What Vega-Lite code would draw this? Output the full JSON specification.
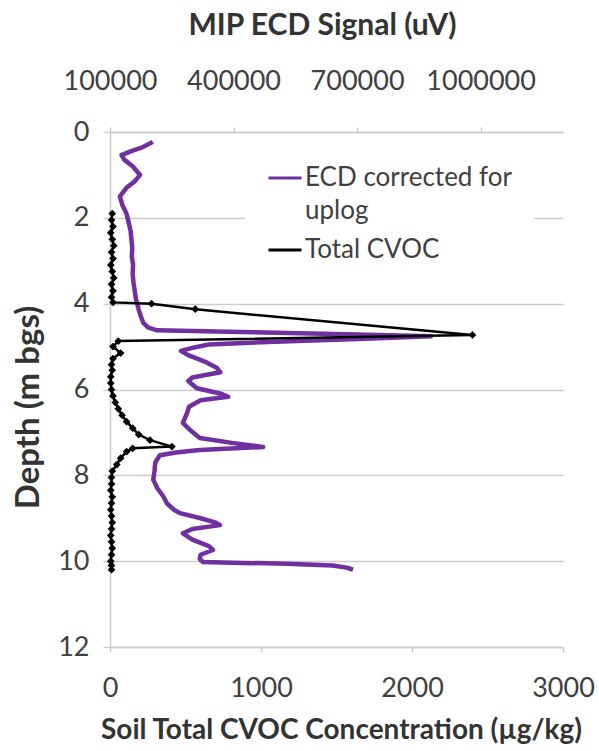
{
  "$schema": "https://vega.github.io/schema/vega-lite/v6.json",
  "width": 453,
  "height": 515,
  "autosize": {"type": "none"},
  "padding": {"left": 110, "top": 132, "right": 36, "bottom": 104},
  "background": "white",
  "config": {
    "view": {"stroke": null},
    "font": "Lato",
    "style": {"guide-label": {"lineHeight": 33}},
    "axis": {
      "labelFont": "Lato",
      "labelFontSize": 27,
      "labelColor": "#404040",
      "titleFont": "Lato",
      "titleFontSize": 30,
      "titleFontWeight": "bold",
      "titleColor": "#333333",
      "domainColor": "#cccccc",
      "domainWidth": 1.5,
      "tickColor": "#cccccc",
      "tickWidth": 1.5,
      "gridColor": "#cccccc",
      "gridWidth": 1.5,
      "labelFlush": false,
      "labelOverlap": false
    },
    "legend": {"labelFont": "Lato", "labelFontSize": 26, "labelColor": "#404040"}
  },
  "datasets": {
    "ecd": [
      {"depth": 0.23, "signal": 204000, "series": "ECD corrected for uplog"},
      {"depth": 0.35, "signal": 180000, "series": "ECD corrected for uplog"},
      {"depth": 0.45, "signal": 150000, "series": "ECD corrected for uplog"},
      {"depth": 0.54, "signal": 128000, "series": "ECD corrected for uplog"},
      {"depth": 0.65, "signal": 135000, "series": "ECD corrected for uplog"},
      {"depth": 0.8, "signal": 155000, "series": "ECD corrected for uplog"},
      {"depth": 1.0, "signal": 173000, "series": "ECD corrected for uplog"},
      {"depth": 1.15, "signal": 160000, "series": "ECD corrected for uplog"},
      {"depth": 1.3, "signal": 140000, "series": "ECD corrected for uplog"},
      {"depth": 1.5, "signal": 124000, "series": "ECD corrected for uplog"},
      {"depth": 1.7, "signal": 130000, "series": "ECD corrected for uplog"},
      {"depth": 1.9, "signal": 140000, "series": "ECD corrected for uplog"},
      {"depth": 2.1, "signal": 145000, "series": "ECD corrected for uplog"},
      {"depth": 2.3, "signal": 150000, "series": "ECD corrected for uplog"},
      {"depth": 2.5, "signal": 152000, "series": "ECD corrected for uplog"},
      {"depth": 2.7, "signal": 154000, "series": "ECD corrected for uplog"},
      {"depth": 2.9, "signal": 153000, "series": "ECD corrected for uplog"},
      {"depth": 3.1, "signal": 156000, "series": "ECD corrected for uplog"},
      {"depth": 3.3, "signal": 155000, "series": "ECD corrected for uplog"},
      {"depth": 3.5, "signal": 157000, "series": "ECD corrected for uplog"},
      {"depth": 3.7, "signal": 160000, "series": "ECD corrected for uplog"},
      {"depth": 3.9, "signal": 163000, "series": "ECD corrected for uplog"},
      {"depth": 4.0, "signal": 166000, "series": "ECD corrected for uplog"},
      {"depth": 4.15, "signal": 170000, "series": "ECD corrected for uplog"},
      {"depth": 4.3, "signal": 175000, "series": "ECD corrected for uplog"},
      {"depth": 4.45, "signal": 181000, "series": "ECD corrected for uplog"},
      {"depth": 4.55, "signal": 192000, "series": "ECD corrected for uplog"},
      {"depth": 4.62, "signal": 214000, "series": "ECD corrected for uplog"},
      {"depth": 4.66, "signal": 420000, "series": "ECD corrected for uplog"},
      {"depth": 4.72, "signal": 700000, "series": "ECD corrected for uplog"},
      {"depth": 4.76, "signal": 880000, "series": "ECD corrected for uplog"},
      {"depth": 4.82, "signal": 720000, "series": "ECD corrected for uplog"},
      {"depth": 4.88, "signal": 520000, "series": "ECD corrected for uplog"},
      {"depth": 4.95, "signal": 340000, "series": "ECD corrected for uplog"},
      {"depth": 5.03, "signal": 300000, "series": "ECD corrected for uplog"},
      {"depth": 5.1, "signal": 272000, "series": "ECD corrected for uplog"},
      {"depth": 5.2, "signal": 290000, "series": "ECD corrected for uplog"},
      {"depth": 5.35, "signal": 330000, "series": "ECD corrected for uplog"},
      {"depth": 5.5, "signal": 360000, "series": "ECD corrected for uplog"},
      {"depth": 5.6, "signal": 368000, "series": "ECD corrected for uplog"},
      {"depth": 5.72, "signal": 300000, "series": "ECD corrected for uplog"},
      {"depth": 5.8, "signal": 290000, "series": "ECD corrected for uplog"},
      {"depth": 5.97, "signal": 311000, "series": "ECD corrected for uplog"},
      {"depth": 6.1, "signal": 370000, "series": "ECD corrected for uplog"},
      {"depth": 6.17, "signal": 387000, "series": "ECD corrected for uplog"},
      {"depth": 6.25, "signal": 320000, "series": "ECD corrected for uplog"},
      {"depth": 6.4, "signal": 292000, "series": "ECD corrected for uplog"},
      {"depth": 6.55, "signal": 287000, "series": "ECD corrected for uplog"},
      {"depth": 6.78, "signal": 277000, "series": "ECD corrected for uplog"},
      {"depth": 6.95, "signal": 295000, "series": "ECD corrected for uplog"},
      {"depth": 7.13, "signal": 318000, "series": "ECD corrected for uplog"},
      {"depth": 7.25, "signal": 400000, "series": "ECD corrected for uplog"},
      {"depth": 7.34, "signal": 472000, "series": "ECD corrected for uplog"},
      {"depth": 7.41, "signal": 318000, "series": "ECD corrected for uplog"},
      {"depth": 7.47, "signal": 260000, "series": "ECD corrected for uplog"},
      {"depth": 7.53, "signal": 221000, "series": "ECD corrected for uplog"},
      {"depth": 7.7, "signal": 210000, "series": "ECD corrected for uplog"},
      {"depth": 7.9, "signal": 208000, "series": "ECD corrected for uplog"},
      {"depth": 8.1, "signal": 205000, "series": "ECD corrected for uplog"},
      {"depth": 8.3, "signal": 215000, "series": "ECD corrected for uplog"},
      {"depth": 8.5, "signal": 230000, "series": "ECD corrected for uplog"},
      {"depth": 8.65, "signal": 238000, "series": "ECD corrected for uplog"},
      {"depth": 8.8, "signal": 255000, "series": "ECD corrected for uplog"},
      {"depth": 8.88, "signal": 270000, "series": "ECD corrected for uplog"},
      {"depth": 9.0, "signal": 320000, "series": "ECD corrected for uplog"},
      {"depth": 9.1, "signal": 357000, "series": "ECD corrected for uplog"},
      {"depth": 9.16, "signal": 367000, "series": "ECD corrected for uplog"},
      {"depth": 9.25, "signal": 300000, "series": "ECD corrected for uplog"},
      {"depth": 9.35, "signal": 277000, "series": "ECD corrected for uplog"},
      {"depth": 9.5, "signal": 300000, "series": "ECD corrected for uplog"},
      {"depth": 9.65, "signal": 340000, "series": "ECD corrected for uplog"},
      {"depth": 9.74, "signal": 350000, "series": "ECD corrected for uplog"},
      {"depth": 9.85, "signal": 320000, "series": "ECD corrected for uplog"},
      {"depth": 9.95, "signal": 318000, "series": "ECD corrected for uplog"},
      {"depth": 10.02, "signal": 326000, "series": "ECD corrected for uplog"},
      {"depth": 10.04, "signal": 420000, "series": "ECD corrected for uplog"},
      {"depth": 10.06, "signal": 530000, "series": "ECD corrected for uplog"},
      {"depth": 10.1, "signal": 640000, "series": "ECD corrected for uplog"},
      {"depth": 10.15, "signal": 675000, "series": "ECD corrected for uplog"},
      {"depth": 10.2, "signal": 690000, "series": "ECD corrected for uplog"}
    ],
    "cvoc": [
      {"depth": 1.9, "conc": 15, "series": "Total CVOC"},
      {"depth": 2.05, "conc": 10, "series": "Total CVOC"},
      {"depth": 2.2, "conc": 20, "series": "Total CVOC"},
      {"depth": 2.35, "conc": 5, "series": "Total CVOC"},
      {"depth": 2.5, "conc": 15, "series": "Total CVOC"},
      {"depth": 2.65, "conc": 25, "series": "Total CVOC"},
      {"depth": 2.8, "conc": 10, "series": "Total CVOC"},
      {"depth": 2.95, "conc": 20, "series": "Total CVOC"},
      {"depth": 3.1, "conc": 5, "series": "Total CVOC"},
      {"depth": 3.25, "conc": 15, "series": "Total CVOC"},
      {"depth": 3.4, "conc": 25, "series": "Total CVOC"},
      {"depth": 3.55, "conc": 10, "series": "Total CVOC"},
      {"depth": 3.7, "conc": 20, "series": "Total CVOC"},
      {"depth": 3.85, "conc": 10, "series": "Total CVOC"},
      {"depth": 3.97, "conc": 20, "series": "Total CVOC"},
      {"depth": 4.0, "conc": 275, "series": "Total CVOC"},
      {"depth": 4.13, "conc": 565, "series": "Total CVOC"},
      {"depth": 4.73, "conc": 2400, "series": "Total CVOC"},
      {"depth": 4.87, "conc": 55, "series": "Total CVOC"},
      {"depth": 5.0, "conc": 20, "series": "Total CVOC"},
      {"depth": 5.15, "conc": 70, "series": "Total CVOC"},
      {"depth": 5.28, "conc": 20, "series": "Total CVOC"},
      {"depth": 5.42, "conc": 10, "series": "Total CVOC"},
      {"depth": 5.55, "conc": 15, "series": "Total CVOC"},
      {"depth": 5.7, "conc": 5, "series": "Total CVOC"},
      {"depth": 5.85, "conc": 5, "series": "Total CVOC"},
      {"depth": 6.0, "conc": 10, "series": "Total CVOC"},
      {"depth": 6.15, "conc": 20, "series": "Total CVOC"},
      {"depth": 6.3, "conc": 35, "series": "Total CVOC"},
      {"depth": 6.45, "conc": 55, "series": "Total CVOC"},
      {"depth": 6.6, "conc": 80, "series": "Total CVOC"},
      {"depth": 6.75, "conc": 110, "series": "Total CVOC"},
      {"depth": 6.9, "conc": 150, "series": "Total CVOC"},
      {"depth": 7.05, "conc": 190, "series": "Total CVOC"},
      {"depth": 7.18, "conc": 265, "series": "Total CVOC"},
      {"depth": 7.33, "conc": 410, "series": "Total CVOC"},
      {"depth": 7.37, "conc": 150, "series": "Total CVOC"},
      {"depth": 7.45, "conc": 110, "series": "Total CVOC"},
      {"depth": 7.6, "conc": 70, "series": "Total CVOC"},
      {"depth": 7.75, "conc": 45, "series": "Total CVOC"},
      {"depth": 7.9, "conc": 15, "series": "Total CVOC"},
      {"depth": 8.05, "conc": 10, "series": "Total CVOC"},
      {"depth": 8.2, "conc": 10, "series": "Total CVOC"},
      {"depth": 8.35, "conc": 5, "series": "Total CVOC"},
      {"depth": 8.5, "conc": 15, "series": "Total CVOC"},
      {"depth": 8.65, "conc": 10, "series": "Total CVOC"},
      {"depth": 8.8, "conc": 5, "series": "Total CVOC"},
      {"depth": 8.95, "conc": 10, "series": "Total CVOC"},
      {"depth": 9.1, "conc": 15, "series": "Total CVOC"},
      {"depth": 9.25, "conc": 10, "series": "Total CVOC"},
      {"depth": 9.4, "conc": 5, "series": "Total CVOC"},
      {"depth": 9.55, "conc": 10, "series": "Total CVOC"},
      {"depth": 9.7, "conc": 15, "series": "Total CVOC"},
      {"depth": 9.85, "conc": 10, "series": "Total CVOC"},
      {"depth": 10.0, "conc": 5, "series": "Total CVOC"},
      {"depth": 10.1, "conc": 10, "series": "Total CVOC"},
      {"depth": 10.2, "conc": 10, "series": "Total CVOC"}
    ]
  },
  "layer": [
    {
      "data": {"name": "ecd"},
      "mark": {"type": "line", "strokeWidth": 4.5, "strokeJoin": "round"},
      "encoding": {
        "y": {
          "field": "depth", "type": "quantitative",
          "scale": {"domain": [0, 12], "reverse": true, "nice": false, "zero": false},
          "axis": {
            "values": [0, 2, 4, 6, 8, 10, 12], "title": "Depth (m bgs)", "grid": true,
            "tickSize": 7, "labelPadding": 14, "titleFontSize": 33,
            "titleX": -82, "titleY": 275, "titleBaseline": "middle", "titleAngle": 270
          }
        },
        "x": {
          "field": "signal", "type": "quantitative",
          "scale": {"domain": [100000, 1200000], "nice": false, "zero": false},
          "axis": {
            "orient": "top", "values": [100000, 400000, 700000, 1000000], "format": "d",
            "title": "MIP ECD Signal (uV)", "grid": false, "tickSize": 5, "labelPadding": 32,
            "titleX": 212, "titleY": -107, "titleBaseline": "middle"
          }
        },
        "color": {
          "field": "series", "type": "nominal",
          "scale": {"domain": ["ECD corrected for uplog", "Total CVOC"], "range": ["#7030a0", "#000000"]},
          "legend": {
            "orient": "none", "legendX": 135, "legendY": 6, "title": " ", "titleOrient": "bottom",
            "titleFontSize": 12, "titlePadding": 2,
            "fillColor": "white", "padding": 22, "symbolType": "stroke", "symbolSize": 1089,
            "symbolStrokeWidth": 3, "labelOffset": 2, "rowPadding": 8, "labelLimit": 400,
            "labelExpr": "datum.label == 'ECD corrected for uplog' ? ['ECD corrected for', 'uplog'] : datum.label"
          }
        },
        "order": {"field": "depth", "type": "quantitative"}
      }
    },
    {
      "data": {"name": "cvoc"},
      "mark": {"type": "line", "strokeWidth": 2.5, "point": {"shape": "diamond", "size": 60, "filled": true}},
      "encoding": {
        "y": {
          "field": "depth", "type": "quantitative",
          "scale": {"domain": [0, 12], "reverse": true, "nice": false, "zero": false},
          "axis": {
            "values": [0, 2, 4, 6, 8, 10, 12], "title": "Depth (m bgs)", "grid": true,
            "tickSize": 7, "labelPadding": 14, "titleFontSize": 33,
            "titleX": -82, "titleY": 275, "titleBaseline": "middle", "titleAngle": 270
          }
        },
        "x": {
          "field": "conc", "type": "quantitative",
          "scale": {"domain": [0, 3000], "nice": false},
          "axis": {
            "orient": "bottom", "values": [0, 1000, 2000, 3000], "format": "d",
            "title": "Soil Total CVOC Concentration (µg/kg)", "grid": false, "tickSize": 5, "labelPadding": 23,
            "titleFontSize": 28, "titleX": 231, "titleY": 83, "titleBaseline": "middle"
          }
        },
        "color": {"field": "series", "type": "nominal"},
        "order": {"field": "depth", "type": "quantitative"}
      }
    }
  ],
  "resolve": {"scale": {"x": "independent"}, "axis": {"x": "independent"}}
}
